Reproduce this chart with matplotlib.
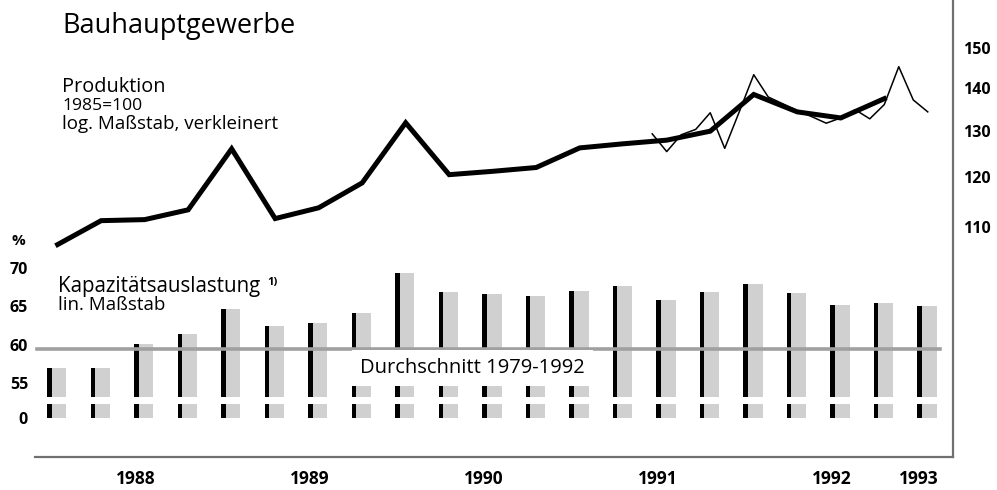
# Bauhauptgewerbe: Produktion und Kapazitaetsauslastung

import numpy as np
import matplotlib.pyplot as plt

plt.rcParams['font.family'] = ['Open Sans', 'DejaVu Sans']

# Kapazitaetsauslastung in %, Quartale 1988 I bis 1993 I
auslastung = [57.0, 57.0, 60.1, 61.4, 64.7, 62.4, 62.8, 64.2, 69.4, 66.9, 66.6,
              66.4, 67.0, 67.7, 65.8, 66.9, 67.9, 66.8, 65.2, 65.4, 65.0]
durchschnitt = 59.4

# Produktion 1985=100, Quartale 1988 I bis 1992 IV
prod_quartal = [106.8, 111.3, 111.5, 113.4, 126.0, 111.7, 113.8, 118.8, 131.8, 120.5,
                121.2, 122.0, 126.2, 127.1, 127.9, 129.9, 138.4, 134.3, 132.9, 137.4]
# Produktion, Monate Juli 1991 bis Februar 1993
prod_monat = [129.3, 125.4, 129.1, 130.3, 134.1, 126.1, 134.3, 143.2, 137.8, 136.2,
              134.6, 133.2, 131.7, 132.9, 134.8, 132.7, 136.0, 145.2, 137.1, 134.3]

jahre = ['1988', '1989', '1990', '1991', '1992', '1993']
jahr_quartal = [2, 6, 10, 14, 18, 20]

W, H = 997, 490
x_q = np.arange(len(auslastung))
x_p = np.arange(len(prod_quartal))
x_m = 13 + (np.arange(len(prod_monat)) + 2) / 3
xlim = (-0.52, 20.58)
frame_col = '#707070'
grey = '#d0d0d0'


def fig_box(top_px, bottom_px):
    return [35 / W, 1 - bottom_px / H, (953 - 35) / W, (bottom_px - top_px) / H]


def clean(ax):
    ax.set_xlim(*xlim)
    ax.set_xticks([])
    for s in ax.spines.values():
        s.set_visible(False)
    ax.patch.set_alpha(0)


fig = plt.figure(figsize=(W / 100, H / 100), dpi=100)

# frame with year labels
frame = fig.add_axes(fig_box(0, 457))
frame.set_xlim(*xlim)
frame.set_ylim(0, 1)
for s in ['left', 'top']:
    frame.spines[s].set_visible(False)
for s in ['right', 'bottom']:
    frame.spines[s].set_color(frame_col)
    frame.spines[s].set_linewidth(1.6)
frame.set_yticks([])
frame.set_xticks(np.array(jahr_quartal) - 0.2)
frame.set_xticklabels(jahre, fontsize=12.5, fontweight='bold')
frame.tick_params(axis='x', length=0, pad=9)
frame.patch.set_alpha(0)

# production, log scale
top = fig.add_axes(fig_box(30, 250))
clean(top)
top.set_yscale('log')
top.set_ylim(105.8, 154.7)
top.plot(x_m, prod_monat, color='black', lw=1.1)
top.plot(x_p, prod_quartal, color='black', lw=3.6, solid_joinstyle='miter')
top.yaxis.tick_right()
top.set_yticks([110, 120, 130, 140, 150])
top.set_yticks([], minor=True)
top.set_yticklabels(['110', '120', '130', '140', '150'], fontsize=11.5, fontweight='bold')
top.tick_params(axis='y', length=0, pad=7)

# capacity utilisation bars
bars = fig.add_axes(fig_box(252.66, 397))
clean(bars)
bars.set_ylim(53.2, 72)
bars.bar(x_q + 0.03, auslastung, width=0.345, color=grey)
bars.bar(x_q - 0.19, auslastung, width=0.103, color='black')
bars.plot([-0.47, 20.28], [durchschnitt, durchschnitt], color='#a0a0a0', lw=2.6)
bars.text(6.95, 57.0, 'Durchschnitt 1979-1992', fontsize=14.5, va='center', ha='left',
          bbox=dict(boxstyle='square,pad=0.4', facecolor='white', edgecolor='none'))
bars.set_yticks([55, 60, 65, 70])
bars.set_yticklabels(['55', '60', '65', '70'], fontsize=11.5, fontweight='bold')
bars.tick_params(axis='y', length=0, pad=5)

# stub below the axis break
stub = fig.add_axes(fig_box(404, 418))
clean(stub)
stub.set_ylim(0, 1)
stub.bar(x_q + 0.03, auslastung, width=0.345, color=grey)
stub.bar(x_q - 0.19, auslastung, width=0.103, color='black')
stub.set_yticks([0])
stub.set_yticklabels(['0'], fontsize=11.5, fontweight='bold')
stub.tick_params(axis='y', length=0, pad=5)

# texts
fig.text(62 / W, 1 - 33 / H, 'Bauhauptgewerbe', fontsize=19.5, va='baseline')
fig.text(62 / W, 1 - 92 / H, 'Produktion', fontsize=14.3, va='baseline')
fig.text(62 / W, 1 - 110 / H, '1985=100', fontsize=12.6, va='baseline')
fig.text(62 / W, 1 - 129 / H, 'log. Maßstab, verkleinert', fontsize=13.5, va='baseline')
fig.text(11 / W, 1 - 245 / H, '%', fontsize=11, fontweight='bold', va='baseline')
fig.text(58 / W, 1 - 292 / H, 'Kapazitätsauslastung', fontsize=14.8, va='baseline')
fig.text(267 / W, 1 - 285 / H, '1)', fontsize=8, fontweight='bold', va='baseline')
fig.text(58 / W, 1 - 310 / H, 'lin. Maßstab', fontsize=13.5, va='baseline')

fig.savefig('out.png', dpi=100)
